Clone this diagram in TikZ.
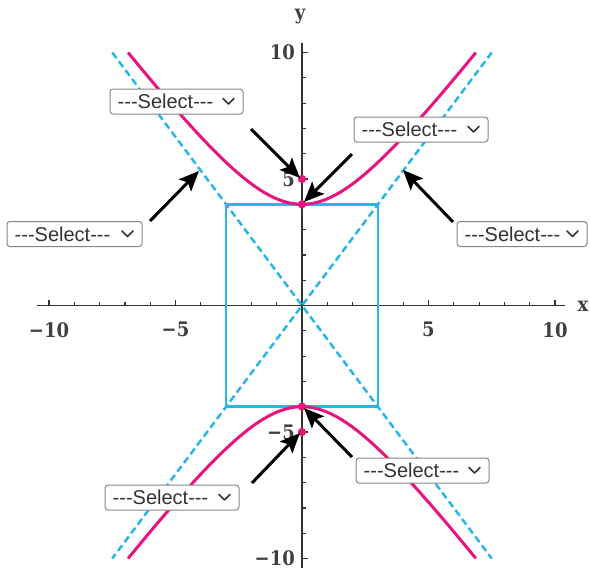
\documentclass[tikz,border=0pt]{standalone}
\usepackage{fontspec}
\setmainfont{DejaVu Serif}
\newfontfamily\numfont{DejaVu Serif Condensed}
\newfontfamily\selfont{Liberation Sans}
\usetikzlibrary{arrows.meta,calc}
\definecolor{hpink}{RGB}{231,19,127}
\definecolor{hblue}{RGB}{41,182,232}
\definecolor{axisgray}{RGB}{51,51,51}
\definecolor{numgray}{RGB}{64,64,64}
\definecolor{boxgray}{RGB}{135,135,135}
\newcommand\hy{\mbox{-}}
\newcommand\seltxt{\hy\hy\hy Select\hy\hy\hy}
\tikzset{
  selbox/.style={draw=boxgray, line width=1pt, fill=white, rounded corners=3pt, minimum height=25pt, inner sep=0pt},
  seltext/.style={font=\selfont\fontsize{20}{20}\selectfont, text=axisgray, anchor=west, inner sep=0pt},
  chevron/.style={draw=axisgray, line width=1.6pt, line cap=round, line join=round},
  pointer/.style={draw=black, line width=3pt, -{Stealth[length=20pt,width=17pt,inset=4pt]}},
  axisline/.style={draw=axisgray, line width=1.5pt},
  tickline/.style={draw=axisgray, line width=1.2pt},
  numlabel/.style={font=\numfont\bfseries\fontsize{20}{20}\selectfont, text=numgray, inner sep=0pt},
  hyper/.style={draw=hpink, line width=3pt},
  asym/.style={draw=hblue, line width=2.5pt, dash pattern=on 7pt off 4pt},
  boxline/.style={draw=hblue, line width=2.5pt},
  dot/.style={fill=hpink}
}
\newcommand\selectbox[4]{%
  \node[selbox, minimum width=#4pt] (#1) at (#2,#3) {};
  \node[seltext] (#1txt) at ([xshift=8pt]#1.west) {\seltxt};
  \draw[chevron] ($(#1.east)+(-20.5,-3)$) -- ++(5.5,5.5) -- ++(5.5,-5.5);
}
\begin{document}
\begin{tikzpicture}[x=1pt,y=-1pt]
\useasboundingbox (0,0) rectangle (590,568);
\begin{scope}[shift={(302,305.5)},x=25.3pt,y=25.3pt]
  % axes
  \draw[axisline] (-10.47,0) -- (10.4,0);
  \draw[axisline] (0,-10.4) -- (0,10.38);
  \foreach \i in {-10,...,10} {
    \ifnum\i=0\relax\else
      \pgfmathtruncatemacro\m{mod(abs(\i),5)}
      \ifnum\m=0
        \draw[tickline] (\i,0) -- ++(0pt,6pt);
        \draw[tickline] (0,\i) -- ++(5.5pt,0pt);
      \else
        \draw[tickline] (\i,0) -- ++(0pt,3.5pt);
        \draw[tickline] (0,\i) -- ++(3.5pt,0pt);
      \fi
    \fi
  }
  \foreach \i/\t in {-10/−10,-5/−5,5/5,10/10} {
    \node[numlabel, anchor=north] (xl\i) at ([yshift=-16.5pt]\i,0) {\t};
    \node[numlabel, anchor=east] (yl\i) at ([xshift=-7pt]0,\i) {\t};
  }
  % box and asymptotes
  \draw[boxline] (-3,-4) rectangle (3,4);
  \draw[asym] (-7.5,10) -- (7.5,-10);
  \draw[asym] (7.5,10) -- (-7.5,-10);
  % hyperbola
  \draw[hyper] plot[variable=\t, domain=-1.5668:1.5668, samples=90, smooth] ({3*sinh(\t)},{4*cosh(\t)});
  \draw[hyper] plot[variable=\t, domain=-1.5668:1.5668, samples=90, smooth] ({3*sinh(\t)},{-4*cosh(\t)});
  % points
  \coordinate (V1) at (0,4);
  \coordinate (V2) at (0,-4);
  \coordinate (F1) at (0,5);
  \coordinate (F2) at (0,-5);
  \foreach \p in {V1,V2,F1,F2} \fill[dot] (\p) circle (4.2pt);
\end{scope}
% axis names
\node[numlabel] (xname) at (583,306) {x};
\node[numlabel] (yname) at (300,17) {y};
% select boxes
\selectbox{s1}{176.5}{101.5}{133}
\selectbox{s2}{421}{129.5}{134}
\selectbox{s3}{74.5}{234}{135}
\selectbox{s4}{522}{234}{130}
\selectbox{s5}{172}{497.5}{134}
\selectbox{s6}{422.5}{470.5}{133}
% arrows
\coordinate (t1) at (251,129); \coordinate (h1) at (300,178);
\coordinate (t2) at (352,154); \coordinate (h2) at (304,202);
\coordinate (t3) at (150,221); \coordinate (h3) at (199,171);
\coordinate (t4) at (453,222); \coordinate (h4) at (403,170);
\coordinate (t5) at (252,483); \coordinate (h5) at (300,433);
\coordinate (t6) at (352,457); \coordinate (h6) at (304,408);
\foreach \k in {1,...,6} \draw[pointer] (t\k) -- (h\k);
\end{tikzpicture}
\end{document}
